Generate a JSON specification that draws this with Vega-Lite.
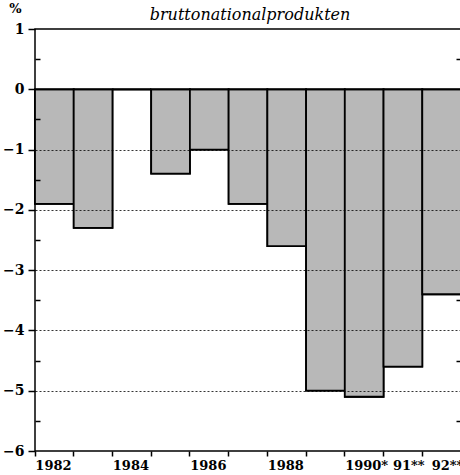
{
  "$schema": "https://vega.github.io/schema/vega-lite/v6.json",
  "width": 426,
  "height": 422,
  "autosize": "none",
  "padding": {"left": 35, "top": 29, "right": 0, "bottom": 24},
  "background": "white",
  "config": {
    "view": {"stroke": "black", "strokeWidth": 1.5},
    "font": "DejaVu Serif",
    "axis": {
      "labelFont": "DejaVu Serif",
      "labelFontWeight": "bold",
      "labelFontSize": 13,
      "labelColor": "black",
      "tickColor": "black",
      "domain": false,
      "titleFont": "DejaVu Serif"
    }
  },
  "title": {
    "text": "bruttonationalprodukten",
    "font": "DejaVu Serif",
    "fontStyle": "italic",
    "fontWeight": "normal",
    "fontSize": 16,
    "color": "black",
    "offset": 9,
    "dx": 2,
    "dy": 30
  },
  "data": {
    "values": [
      {"year": "1982", "value": -1.9},
      {"year": "1983", "value": -2.3},
      {"year": "1984", "value": 0},
      {"year": "1985", "value": -1.4},
      {"year": "1986", "value": -1.0},
      {"year": "1987", "value": -1.9},
      {"year": "1988", "value": -2.6},
      {"year": "1989", "value": -5.0},
      {"year": "1990", "value": -5.1},
      {"year": "1991", "value": -4.6},
      {"year": "1992", "value": -3.4}
    ]
  },
  "layer": [
    {
      "mark": {"type": "bar", "fill": "#b8b8b8", "stroke": "black", "strokeWidth": 1.8},
      "encoding": {
        "x": {
          "field": "year",
          "type": "ordinal",
          "scale": {"paddingInner": 0, "paddingOuter": 0},
          "axis": {
            "title": null,
            "bandPosition": 0,
            "labelAngle": 0,
            "labelAlign": "left",
            "labelPadding": 3,
            "labelFontSize": 13,
            "labelOffset": {"condition": {"test": "datum.value == '1991' || datum.value == '1992'", "value": -10}, "value": -19},
            "tickSize": 5,
            "tickWidth": 1.5,
            "labelExpr": "datum.value == '1990' ? '1990*' : datum.value == '1991' ? '91**' : datum.value == '1992' ? '92**' : (toNumber(datum.value) % 2 == 0 ? datum.value : '')"
          }
        },
        "y": {
          "field": "value",
          "type": "quantitative",
          "scale": {"domain": [-6, 1], "nice": false},
          "axis": {
            "orient": "left",
            "title": "%",
            "titleAngle": 0,
            "titleX": -20,
            "titleY": -14,
            "titleFontSize": 13,
            "titleFontWeight": "bold",
            "titleColor": "black",
            "values": [-6, -5.5, -5, -4.5, -4, -3.5, -3, -2.5, -2, -1.5, -1, -0.5, 0, 0.5, 1],
            "labelExpr": "datum.value % 1 == 0 ? format(datum.value, 'd') : ''",
            "labelPadding": 4,
            "labelFontSize": 14,
            "tickSize": {"condition": {"test": "datum.value % 1 == 0", "value": 7}, "value": -5},
            "tickWidth": 1.5,
            "grid": true,
            "gridColor": "black",
            "gridWidth": {"condition": {"test": "datum.value == 0", "value": 1.5}, "value": 0.8},
            "gridDash": {"condition": {"test": "datum.value == 0", "value": []}, "value": [2, 2]},
            "gridOpacity": {"condition": {"test": "datum.value % 1 == 0 && datum.value > -6 && datum.value < 1", "value": 1}, "value": 0},
            "zindex": 1
          }
        }
      }
    },
    {
      "mark": {"type": "bar", "fill": "#b8b8b8", "stroke": "black", "strokeWidth": 1.8},
      "encoding": {
        "x": {"field": "year", "type": "ordinal"},
        "y": {
          "field": "value",
          "type": "quantitative",
          "axis": {
            "orient": "right",
            "title": null,
            "labels": false,
            "grid": false,
            "values": [-5.5, -4.5, -3.5, -2.5, -1.5, -0.5, 0.5],
            "tickSize": -5,
            "tickWidth": 1.5
          }
        }
      }
    }
  ],
  "resolve": {"axis": {"y": "independent"}}
}
